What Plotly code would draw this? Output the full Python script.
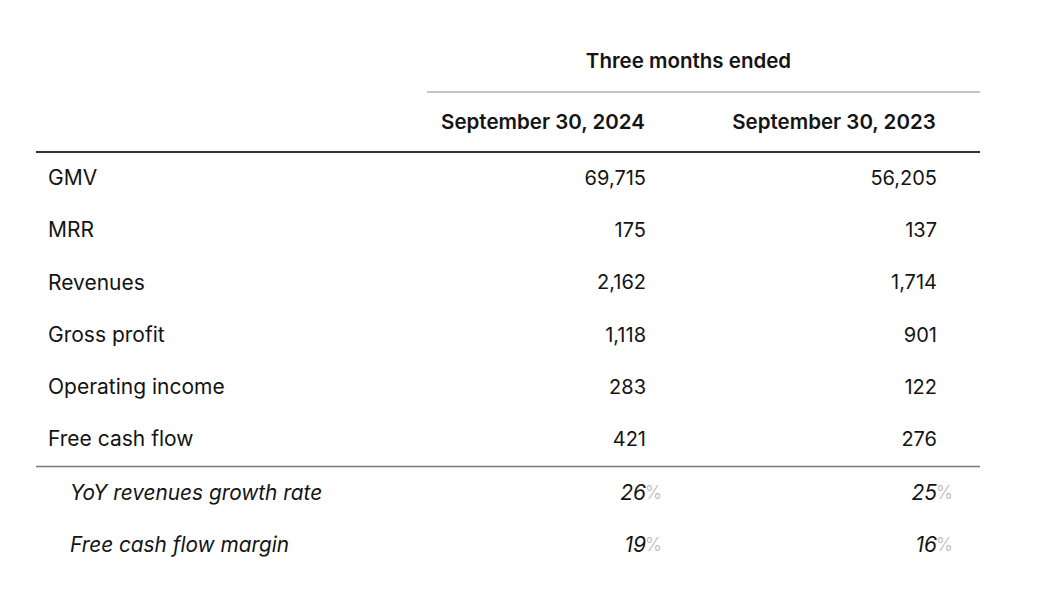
import plotly.graph_objects as go

# table content
header_group = "Three months ended"
periods = ["September 30, 2024", "September 30, 2023"]
metrics = ["GMV", "MRR", "Revenues", "Gross profit", "Operating income", "Free cash flow"]
values_2024 = [69715, 175, 2162, 1118, 283, 421]
values_2023 = [56205, 137, 1714, 901, 122, 276]
ratio_labels = ["YoY revenues growth rate", "Free cash flow margin"]
ratios_2024 = [26, 19]
ratios_2023 = [25, 16]

W, H = 1047, 589
PAD = 8  # default body margin of the html page
FONT = "Inter"
INK = "#141414"

label_x = 48
ratio_label_x = 70
col_right = [646, 937]
col_center = [543, 834]
row0_y = 180
row_step = 52.2

metric_y = [row0_y + i * row_step for i in range(len(metrics))]
ratio_y = [row0_y + (len(metrics) + i) * row_step + 1.5 for i in range(len(ratio_labels))]

fig = go.Figure()

# header
fig.add_trace(go.Scatter(
    x=[sum(col_center) / 2], y=[63], text=[header_group], mode="text",
    textposition="middle center",
    textfont=dict(family=FONT, size=20.5, color=INK, weight=600)))
fig.add_trace(go.Scatter(
    x=col_center, y=[124, 124], text=periods, mode="text",
    textposition="middle center",
    textfont=dict(family=FONT, size=20.5, color=INK, weight=600)))

# metric labels and values
fig.add_trace(go.Scatter(
    x=[label_x] * len(metrics), y=metric_y, text=metrics, mode="text",
    textposition="middle right",
    textfont=dict(family=FONT, size=21, color=INK)))
for cx, vals in zip(col_right, [values_2024, values_2023]):
    fig.add_trace(go.Scatter(
        x=[cx] * len(vals), y=metric_y, text=[f"{v:,}" for v in vals], mode="text",
        textposition="middle left",
        textfont=dict(family=FONT, size=20, color=INK)))

# ratio rows
fig.add_trace(go.Scatter(
    x=[ratio_label_x] * len(ratio_labels), y=ratio_y, text=ratio_labels, mode="text",
    textposition="middle right",
    textfont=dict(family=FONT, size=20.8, color=INK, style="italic")))
for cx, vals in zip(col_right, [ratios_2024, ratios_2023]):
    fig.add_trace(go.Scatter(
        x=[cx] * len(vals), y=ratio_y, text=[str(v) for v in vals], mode="text",
        textposition="middle left",
        textfont=dict(family=FONT, size=21, color=INK, style="italic")))
    fig.add_trace(go.Scatter(
        x=[cx - 1] * len(vals), y=ratio_y, text=["%"] * len(vals), mode="text",
        textposition="middle right",
        textfont=dict(family=FONT, size=18, color="#b8b8b8", weight=300)))

# rules
fig.add_shape(type="line", x0=427, x1=980, y0=92, y1=92, line=dict(color="#b0b0b0", width=1.5))
fig.add_shape(type="line", x0=36, x1=980, y0=152, y1=152, line=dict(color="#333333", width=2))
fig.add_shape(type="line", x0=36, x1=980, y0=466.5, y1=466.5, line=dict(color="#7a7a7a", width=1.5))

fig.update_layout(
    width=W - 2 * PAD, height=H - 2 * PAD, margin=dict(l=0, r=0, t=0, b=0),
    paper_bgcolor="white", plot_bgcolor="white", showlegend=False,
    xaxis=dict(range=[PAD, W - PAD], visible=False, fixedrange=True),
    yaxis=dict(range=[H - PAD, PAD], visible=False, fixedrange=True),
)

fig.write_html("out.html")
